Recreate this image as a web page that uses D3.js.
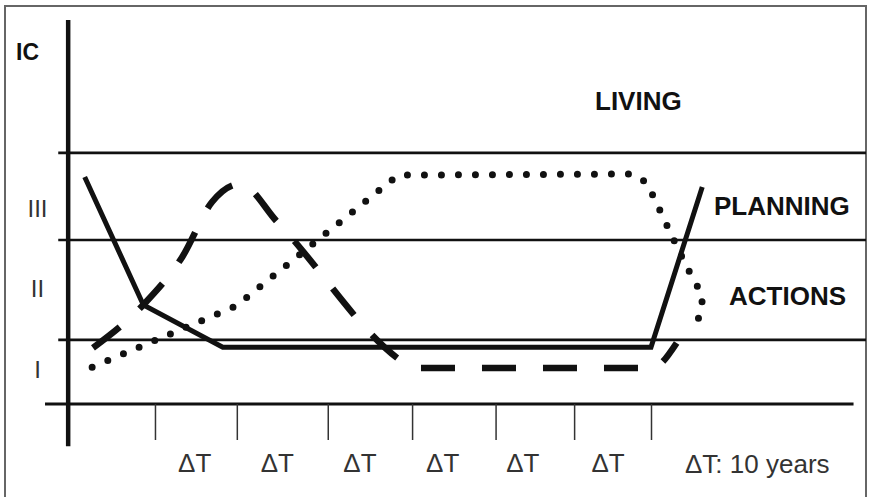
<!DOCTYPE html>
<html>
<head>
<meta charset="utf-8">
<script src="https://cdn.jsdelivr.net/npm/d3@7"></script>
<style>
  body { margin: 0; background: #fff; }
  text { font-family: Arial, "Liberation Sans", sans-serif; }
</style>
</head>
<body>
<div class="canvas"></div>
<script>
// time in units of ΔT, IC level in arbitrary units (0 = x axis)
const tickT = [1, 1.99, 3.09, 4.11, 5.12, 6.07, 7];
const labelT = [1.48, 2.48, 3.48, 4.48, 5.45, 6.48];
const tickLabels = ["ΔT", "ΔT", "ΔT", "ΔT", "ΔT", "ΔT"];
const bandLevels = [16.7, 42.7, 65.4];
const bandNames = ["I", "II", "III"];
const bandNameLevels = [9, 30, 51];

const solidT = [0.15, 0.86, 1.82, 7.0, 7.62];
const solidIC = [59.1, 25.8, 14.8, 14.8, 56.5];

const dashT = [0.25, 0.88, 1.33, 1.69, 2.03, 2.48, 4.0, 4.11, 7.01, 7.31];
const dashIC = [14.6, 26.3, 38.3, 52.6, 57.3, 47.4, 10.9, 9.4, 9.4, 15.9];

const dotT = [0.24, 1.98, 3.94, 6.77, 6.95, 7.05, 7.23, 7.42, 7.63, 7.57];
const dotIC = [9.6, 25.5, 59.6, 59.9, 57.6, 53.1, 44.8, 36.2, 27.9, 21.9];

const dims = { width: 877, height: 497 };

const svg = d3
  .select(".canvas")
  .append("svg")
  .attr("width", dims.width)
  .attr("height", dims.height);

// frame
svg
  .append("rect")
  .attr("x", 5)
  .attr("y", 6)
  .attr("width", 861)
  .attr("height", 500)
  .attr("fill", "none")
  .attr("stroke", "#666")
  .attr("stroke-width", 2);

const x = d3.scaleLinear().domain([0, 7]).range([72.3, 651]);
const y = d3.scaleLinear().domain([0, 100]).range([404, 20]);

// band boundaries
svg
  .selectAll("line.band")
  .data(bandLevels)
  .enter()
  .append("line")
  .attr("class", "band")
  .attr("x1", x(-0.17))
  .attr("x2", 866)
  .attr("y1", (d) => y(d))
  .attr("y2", (d) => y(d))
  .attr("stroke", "#111")
  .attr("stroke-width", 2.6);

// x axis line + ticks
svg
  .append("line")
  .attr("x1", x(-0.33))
  .attr("x2", x(9.45))
  .attr("y1", y(0))
  .attr("y2", y(0))
  .attr("stroke", "#111")
  .attr("stroke-width", 3);

const xAxis = d3.axisBottom(x).tickValues(tickT).tickSize(36).tickFormat("");
svg
  .append("g")
  .attr("transform", `translate(0, ${y(0)})`)
  .call(xAxis)
  .call((g) => g.select(".domain").remove())
  .call((g) => g.selectAll(".tick line").attr("stroke", "#333").attr("stroke-width", 1.5));

// y axis line
svg
  .append("line")
  .attr("x1", x(-0.05))
  .attr("x2", x(-0.05))
  .attr("y1", y(100))
  .attr("y2", y(-11))
  .attr("stroke", "#111")
  .attr("stroke-width", 4.5);

// ΔT labels between ticks
svg
  .selectAll("text.dt")
  .data(tickLabels)
  .enter()
  .append("text")
  .attr("class", "dt")
  .attr("x", (d, i) => x(labelT[i]))
  .attr("y", 472)
  .attr("text-anchor", "middle")
  .attr("font-size", 26)
  .attr("fill", "#333")
  .text((d) => d);

svg
  .append("text")
  .attr("x", 685)
  .attr("y", 473)
  .attr("font-size", 26)
  .attr("fill", "#333")
  .text("ΔT: 10 years");

// roman numerals
svg
  .selectAll("text.band")
  .data(bandNames)
  .enter()
  .append("text")
  .attr("class", "band")
  .attr("x", 37.5)
  .attr("y", (d, i) => y(bandNameLevels[i]))
  .attr("dy", "0.36em")
  .attr("text-anchor", "middle")
  .attr("font-size", 24)
  .attr("fill", "#333")
  .text((d) => d);

svg
  .append("text")
  .attr("x", 16)
  .attr("y", 60)
  .attr("font-size", 23)
  .attr("font-weight", "bold")
  .attr("fill", "#111")
  .text("IC");

// zone labels
const zoneLabels = [
  { text: "LIVING", x: 595, y: 110 },
  { text: "PLANNING", x: 714, y: 215 },
  { text: "ACTIONS", x: 729, y: 305 },
];
svg
  .selectAll("text.zone")
  .data(zoneLabels)
  .enter()
  .append("text")
  .attr("class", "zone")
  .attr("x", (d) => d.x)
  .attr("y", (d) => d.y)
  .attr("font-size", 26)
  .attr("font-weight", "bold")
  .attr("fill", "#111")
  .text((d) => d.text);

// curves
const zip = (ts, vs) => ts.map((t, i) => [t, vs[i]]);

const solidLine = d3.line().x((d) => x(d[0])).y((d) => y(d[1]));
const dashLine = d3
  .line()
  .x((d) => x(d[0]))
  .y((d) => y(d[1]))
  .curve(d3.curveMonotoneX);
const dotLine = d3.line().x((d) => x(d[0])).y((d) => y(d[1]));

svg
  .append("path")
  .attr("d", dotLine(zip(dotT, dotIC)))
  .attr("fill", "none")
  .attr("stroke", "#111")
  .attr("stroke-width", 7)
  .attr("stroke-linecap", "round")
  .attr("stroke-dasharray", "0,17");

svg
  .append("path")
  .attr("d", dashLine(zip(dashT, dashIC)))
  .attr("fill", "none")
  .attr("stroke", "#111")
  .attr("stroke-width", 6.5)
  .attr("stroke-dasharray", "34,27");

svg
  .append("path")
  .attr("d", solidLine(zip(solidT, solidIC)))
  .attr("fill", "none")
  .attr("stroke", "#111")
  .attr("stroke-width", 5)
  .attr("stroke-linejoin", "miter");
</script>
</body>
</html>
